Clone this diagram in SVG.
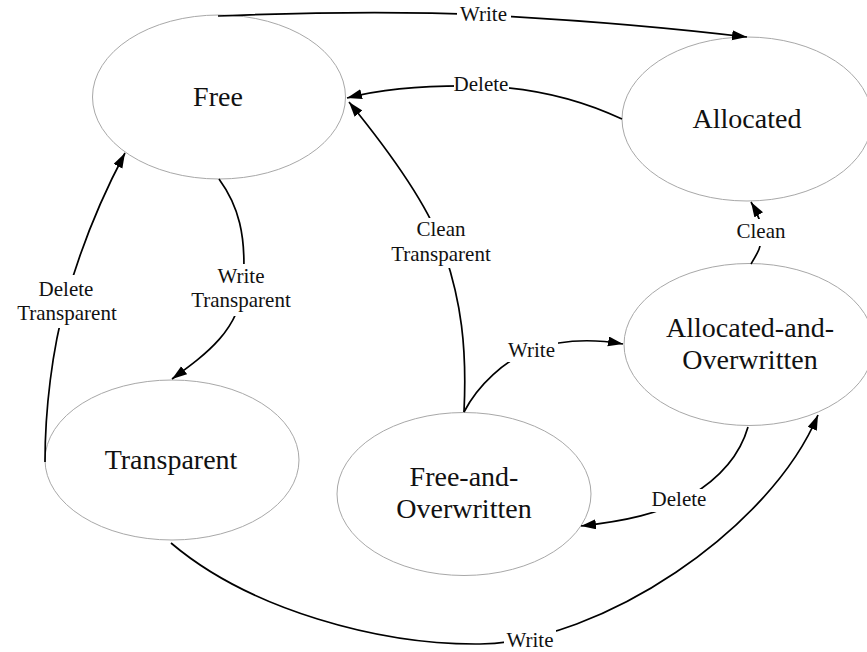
<svg xmlns="http://www.w3.org/2000/svg" width="867" height="652" viewBox="0 0 867 652">
<style>
.node ellipse{fill:#fff;stroke:#a8a8a8;stroke-width:1}
.node text{font-family:"Liberation Serif","Times New Roman",serif;font-size:28px;fill:#111;text-anchor:middle}
.edge path{fill:none;stroke:#000;stroke-width:1.7;marker-end:url(#arr)}
.edge rect{fill:#fff;stroke:none}
.edge text{font-family:"Liberation Serif","Times New Roman",serif;font-size:21px;fill:#111;text-anchor:middle}
</style>
<defs>
<marker id="arr" markerUnits="userSpaceOnUse" markerWidth="16" markerHeight="11" refX="15" refY="5" orient="auto">
<path d="M0,0 L15,5 L0,10 z" fill="#000"/>
</marker>
</defs>
<rect width="867" height="652" fill="#fff"/>
<g id="nodes">
<g id="free" class="node"><ellipse cx="219" cy="97" rx="126.5" ry="82"/><text x="218" y="106">Free</text></g>
<g id="allocated" class="node"><ellipse cx="747" cy="119" rx="125" ry="82"/><text x="747" y="128">Allocated</text></g>
<g id="allocated-and-overwritten" class="node"><ellipse cx="749" cy="344.5" rx="125" ry="81"/><text x="750" y="337">Allocated-and-</text><text x="750" y="369">Overwritten</text></g>
<g id="transparent" class="node"><ellipse cx="172" cy="460" rx="127" ry="80"/><text x="171" y="469">Transparent</text></g>
<g id="free-and-overwritten" class="node"><ellipse cx="464" cy="494" rx="127" ry="81.5"/><text x="464" y="486">Free-and-</text><text x="464" y="518">Overwritten</text></g>
</g>
<g id="edges">
<g id="e-free-allocated" class="edge"><path d="M218,16 C320,12 420,12 484,15 C580,20 680,29 747,37"/><rect x="457" y="4" width="54" height="22"/><text x="483.5" y="21">Write</text></g>
<g id="e-allocated-free" class="edge"><path d="M622,119 C590,104 545,88 481,86 C430,85 385,88 347,98"/><rect x="454" y="75" width="55" height="21"/><text x="481" y="91">Delete</text></g>
<g id="e-fo-free" class="edge"><path d="M464,412 C467,350 462,300 441,243 C425,200 380,140 349,102"/><rect x="388" y="218" width="106" height="50"/><text x="441" y="236">Clean</text><text x="441" y="261">Transparent</text></g>
<g id="e-free-transparent" class="edge"><path d="M219,179 C238,205 247,235 243,285 C240,330 205,355 172,379"/><rect x="188" y="264" width="106" height="52"/><text x="241" y="283">Write</text><text x="241" y="307">Transparent</text></g>
<g id="e-transparent-free" class="edge"><path d="M45,462 C45,410 52,350 66,300 C80,250 100,200 125,153"/><rect x="13" y="275" width="108" height="53"/><text x="66" y="296">Delete</text><text x="67" y="320">Transparent</text></g>
<g id="e-fo-ao" class="edge"><path d="M464,412 C478,385 505,360 532,350 C565,338 600,340 623,344"/><rect x="506" y="340" width="52" height="22"/><text x="531.5" y="357">Write</text></g>
<g id="e-ao-allocated" class="edge"><path d="M751,264 C757,254 762,246 762,235 C762,225 757,212 751,202"/><rect x="735" y="219" width="52" height="27"/><text x="761" y="238">Clean</text></g>
<g id="e-ao-fo" class="edge"><path d="M748,427 C740,455 720,478 690,496 C660,514 625,521 581,526"/><rect x="651" y="489" width="56" height="23"/><text x="679" y="506">Delete</text></g>
<g id="e-transparent-ao" class="edge"><path d="M171,543 C250,610 380,645 480,644 C600,643 770,530 818,415"/><rect x="504" y="630" width="52" height="22"/><text x="530" y="647">Write</text></g>
</g>
</svg>
